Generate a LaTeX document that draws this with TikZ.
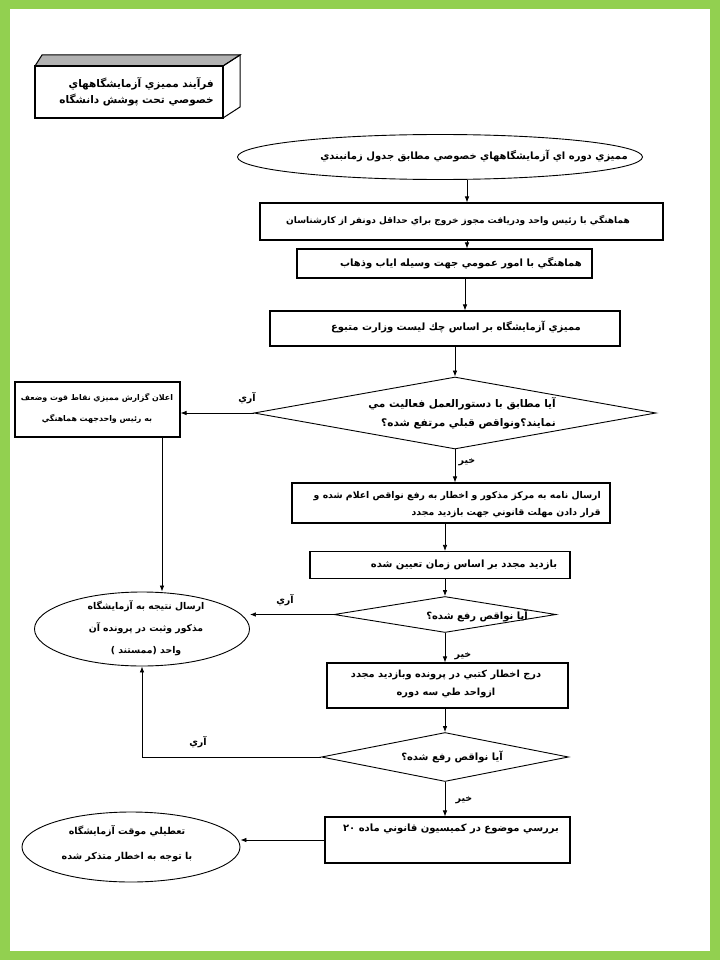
\documentclass[tikz,border=0pt]{standalone}
\usepackage{fontspec}
\usetikzlibrary{shapes.geometric,arrows.meta}
\TeXXeTstate=1
\newfontfamily\arabicfont[Script=Arabic]{DejaVu Sans}
\newcommand\artxt[1]{\beginR #1\endR}
\newcommand\fs[2]{\arabicfont\bfseries\fontsize{#1}{#2}\selectfont}
\definecolor{frameGreen}{RGB}{146,208,80}
\begin{document}
\begin{tikzpicture}[x=1pt,y=-1pt,
  shp/.style={draw, line width=1.1pt, inner sep=0pt},
  boxs/.style={shp, rectangle},
  ells/.style={shp, ellipse, line width=0.9pt},
  dias/.style={shp, diamond, line width=0.9pt},
  txt/.style={font=\fs{10}{17}, inner sep=0pt},
  lbl/.style={font=\fs{9.5}{10}, inner sep=0pt},
  arr/.style={-{Latex[length=6pt,width=4.5pt]}, line width=0.7pt}]
% frame
\fill[frameGreen] (0,0) rectangle (720,960);
\fill[white] (10,9) rectangle (710,951);
\useasboundingbox (0,0) rectangle (720,960);
% title 3D box
\filldraw[fill=gray!60, line width=1pt] (35,66) -- (42,55) -- (240,55) -- (223,66) -- cycle;
\draw[line width=1pt] (223,66) -- (240,55) -- (240,107) -- (223,118);
\node[boxs, minimum width=188, minimum height=52, line width=1.3pt] (tb) at (129,92) {};
\node[txt, align=right, font=\fs{10.5}{15.5}, anchor=east] (tt) at (214,92)
  {\artxt{فرآيند مميزي آزمايشگاههاي}\\\artxt{خصوصي تحت پوشش دانشگاه}};
% start ellipse
\node[ells, minimum width=405, minimum height=45] (e0) at (440,157) {};
\node[txt] (t0) at (474,156) {\artxt{مميزي دوره اي آزمايشگاههاي خصوصي مطابق جدول زمانبندي}};
% box 1
\node[boxs, minimum width=403, minimum height=37] (b1) at (461.5,221.5) {};
\node[txt, font=\fs{9}{12}] (t1) at (458,221) {\artxt{هماهنگي با رئيس واحد ودريافت مجوز خروج براي حداقل دونفر از كارشناسان}};
% box 2
\node[boxs, minimum width=295, minimum height=29] (b2) at (444.5,263.5) {};
\node[txt] (t2) at (461,263) {\artxt{هماهنگي با امور عمومي جهت وسيله اياب وذهاب}};
% box 3
\node[boxs, minimum width=350, minimum height=35] (b3) at (445,328.5) {};
\node[txt] (t3) at (456,327) {\artxt{مميزي آزمايشگاه بر اساس چك ليست وزارت متبوع}};
% diamond 1
\node[dias, minimum width=402, minimum height=72, aspect=5.5] (d1) at (455,413) {};
\node[txt, align=right, font=\fs{10.5}{19}, anchor=east] (td1) at (556,413)
  {\artxt{آيا مطابق با دستورالعمل فعاليت مي}\\\artxt{نمايند؟ونواقص قبلي مرتفع شده؟}};
% left box
\node[boxs, minimum width=165, minimum height=55] (lb) at (97.5,409.5) {};
\node[txt, align=center, font=\fs{7.9}{21}] (tlb) at (97,408)
  {\artxt{اعلان گزارش مميزي نقاط قوت وضعف}\\\artxt{به رئيس واحدجهت هماهنگي}};
% box 4
\node[boxs, minimum width=318, minimum height=40] (b4) at (451,503) {};
\node[txt, align=right, anchor=east, font=\fs{9.3}{17}] (t4) at (601,505)
  {\artxt{ارسال نامه به مركز مذكور و اخطار به رفع نواقص اعلام شده و}\\\artxt{قرار دادن مهلت قانوني جهت بازديد مجدد}};
% box 5
\node[boxs, minimum width=260, minimum height=27] (b5) at (440,565) {};
\node[txt] (t5) at (464,565) {\artxt{بازديد مجدد بر اساس زمان تعيين شده}};
% diamond 2
\node[dias, minimum width=222, minimum height=36, aspect=6] (d2) at (445,614.5) {};
\node[txt] (td2) at (477,616) {\artxt{آيا نواقص رفع شده؟}};
% left ellipse
\node[ells, minimum width=215, minimum height=74] (le) at (142,629) {};
\node[txt, align=center, font=\fs{9.3}{22}] (tle) at (146,628)
  {\artxt{ارسال نتيجه به آزمايشگاه}\\\artxt{مذكور وثبت در پرونده آن}\\\artxt{واحد (ممستند )}};
% box 6
\node[boxs, minimum width=241, minimum height=45] (b6) at (447.5,685.5) {};
\node[txt, align=center, font=\fs{9.8}{18}] (t6) at (446,684)
  {\artxt{درج اخطار كتبي در پرونده وبازديد مجدد}\\\artxt{ازواحد طي سه دوره}};
% diamond 3
\node[dias, minimum width=247, minimum height=49, aspect=5] (d3) at (445,757) {};
\node[txt] (td3) at (452,757) {\artxt{آيا نواقص رفع شده؟}};
% box 7
\node[boxs, minimum width=245, minimum height=46] (b7) at (447.5,840) {};
\node[txt] (t7) at (451,829) {\artxt{بررسي موضوع در كميسيون قانوني ماده ٢٠}};
% bottom ellipse
\node[ells, minimum width=218, minimum height=70] (be) at (131,847) {};
\node[txt, align=center, font=\fs{9.5}{25}] (tbe) at (127,844)
  {\artxt{تعطيلي موقت آزمايشگاه}\\\artxt{با توجه به اخطار متذكر شده}};
% column coordinates
\coordinate (ca) at (467,0);
\coordinate (cb) at (465,0);
\coordinate (cl) at (162,0);
% connectors
\draw[arr] (ca |- e0.south) -- (ca |- b1.north);
\draw[arr] (ca |- b1.south) -- (ca |- b2.north);
\draw[arr] (cb |- b2.south) -- (cb |- b3.north);
\draw[arr] (d1.north |- b3.south) -- (d1.north);
\draw[arr] (d1.west) -- (d1.west -| lb.east);
\draw[arr] (d1.south) -- (d1.south |- b4.north);
\draw[arr] (cl |- lb.south) -- (cl |- le.north);
\draw[arr] (d2.north |- b4.south) -- (d2.north |- b5.north);
\draw[arr] (d2.north |- b5.south) -- (d2.north);
\draw[arr] (d2.west) -- (d2.west -| le.east);
\draw[arr] (d2.south) -- (d2.south |- b6.north);
\draw[arr] (d3.north |- b6.south) -- (d3.north);
\draw[arr] (d3.west) -| (le.south);
\draw[arr] (d3.south) -- (d3.south |- b7.north);
\draw[arr] (b7.west) -- (b7.west -| be.east);
% labels
\node[lbl] (y1) at (247,398) {\artxt{آري}};
\node[lbl] (n1) at (467,462) {\artxt{خير}};
\node[lbl] (y2) at (285,600) {\artxt{آري}};
\node[lbl] (n2) at (463,656) {\artxt{خير}};
\node[lbl] (y3) at (198,742) {\artxt{آري}};
\node[lbl] (n3) at (464,800) {\artxt{خير}};
\end{tikzpicture}
\end{document}
